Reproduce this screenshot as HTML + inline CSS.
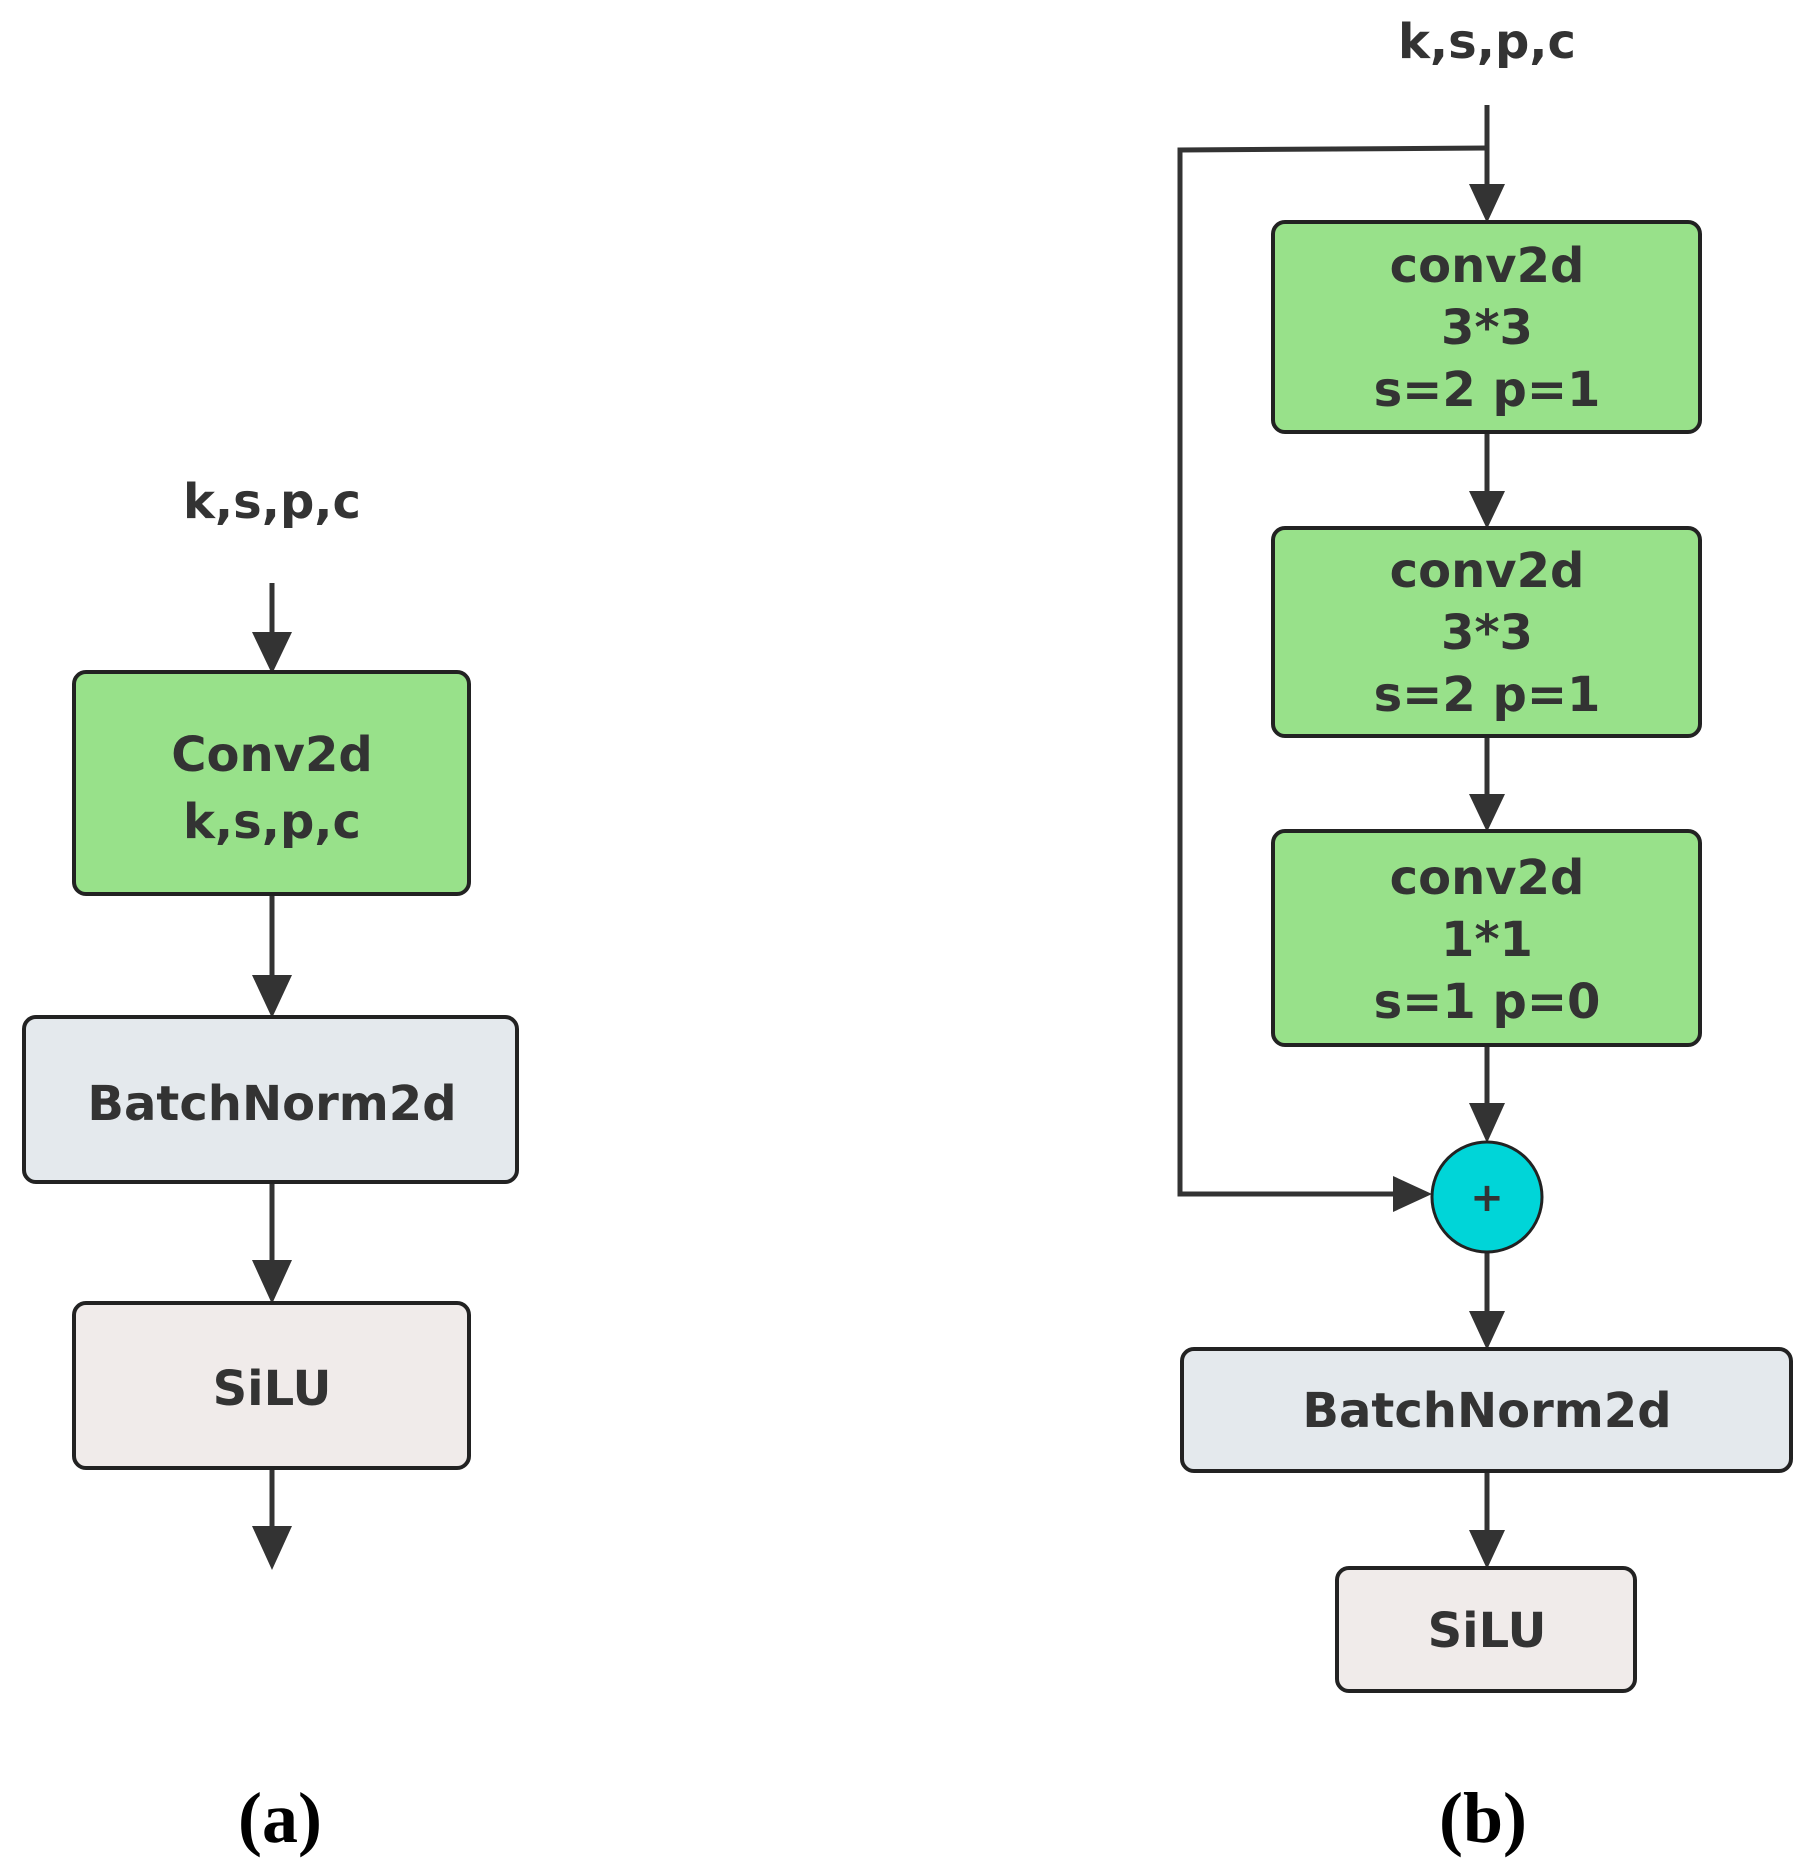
<!DOCTYPE html>
<html><head><meta charset="utf-8"><style>
html,body{margin:0;padding:0;background:#fff}
svg{display:block}
text{font-family:"DejaVu Sans","Liberation Sans",sans-serif;font-weight:bold;fill:#333}
.cap{font-family:"Liberation Serif",serif;fill:#000;font-weight:bold}
</style></head><body>
<svg width="1807" height="1872" viewBox="0 0 1807 1872" xmlns="http://www.w3.org/2000/svg">
<g stroke="#333" stroke-width="5" fill="none">
<line x1="272" y1="583" x2="272" y2="640"/>
<line x1="272" y1="894" x2="272" y2="985"/>
<line x1="272" y1="1182" x2="272" y2="1272"/>
<line x1="272" y1="1468" x2="272" y2="1535"/>
<line x1="1487" y1="105" x2="1487" y2="190"/>
<polyline points="1487,148 1180,150 1180,1194 1400,1194"/>
<line x1="1487" y1="432" x2="1487" y2="497"/>
<line x1="1487" y1="736" x2="1487" y2="800"/>
<line x1="1487" y1="1045" x2="1487" y2="1110"/>
<line x1="1487" y1="1252" x2="1487" y2="1318"/>
<line x1="1487" y1="1471" x2="1487" y2="1537"/>
</g>
<g fill="#333">
<polygon points="252,632 292,632 272,674"/>
<polygon points="252,975 292,975 272,1018"/>
<polygon points="252,1260 292,1260 272,1304"/>
<polygon points="252,1526 292,1526 272,1570"/>
<polygon points="1469,184 1505,184 1487,223"/>
<polygon points="1469,491 1505,491 1487,529"/>
<polygon points="1469,794 1505,794 1487,832"/>
<polygon points="1469,1103 1505,1103 1487,1143"/>
<polygon points="1469,1311 1505,1311 1487,1350"/>
<polygon points="1469,1530 1505,1530 1487,1569"/>
<polygon points="1393,1176 1393,1212 1432,1194"/>
</g>
<g stroke="#222" stroke-width="4">
<rect x="74" y="672" width="395" height="222" rx="12" fill="#98e18a"/>
<rect x="24" y="1017" width="493" height="165" rx="12" fill="#e4e9ed"/>
<rect x="74" y="1303" width="395" height="165" rx="12" fill="#f0ebea"/>
<rect x="1273" y="222" width="427" height="210" rx="12" fill="#98e18a"/>
<rect x="1273" y="528" width="427" height="208" rx="12" fill="#98e18a"/>
<rect x="1273" y="831" width="427" height="214" rx="12" fill="#98e18a"/>
<rect x="1182" y="1349" width="609" height="122" rx="12" fill="#e4e9ed"/>
<rect x="1337" y="1568" width="298" height="123" rx="12" fill="#f0ebea"/>
<circle cx="1487" cy="1197" r="55" fill="#00d5d8" stroke-width="3"/>
</g>
<g text-anchor="middle" font-size="48">
<text x="272" y="518">k,s,p,c</text>
<text x="272" y="771">Conv2d</text>
<text x="272" y="838">k,s,p,c</text>
<text x="272" y="1120">BatchNorm2d</text>
<text x="272" y="1405">SiLU</text>
<text x="1487" y="58">k,s,p,c</text>
<text x="1487" y="282">conv2d</text>
<text x="1487" y="344">3*3</text>
<text x="1487" y="406">s=2 p=1</text>
<text x="1487" y="587">conv2d</text>
<text x="1487" y="649">3*3</text>
<text x="1487" y="711">s=2 p=1</text>
<text x="1487" y="894">conv2d</text>
<text x="1487" y="956">1*1</text>
<text x="1487" y="1018">s=1 p=0</text>
<text x="1487" y="1427">BatchNorm2d</text>
<text x="1487" y="1647">SiLU</text>
<text x="1487" y="1211" font-size="40" font-weight="normal">+</text>
<text class="cap" x="280" y="1842" font-size="72">(a)</text>
<text class="cap" x="1483" y="1842" font-size="72">(b)</text>
</g>
</svg>
</body></html>
